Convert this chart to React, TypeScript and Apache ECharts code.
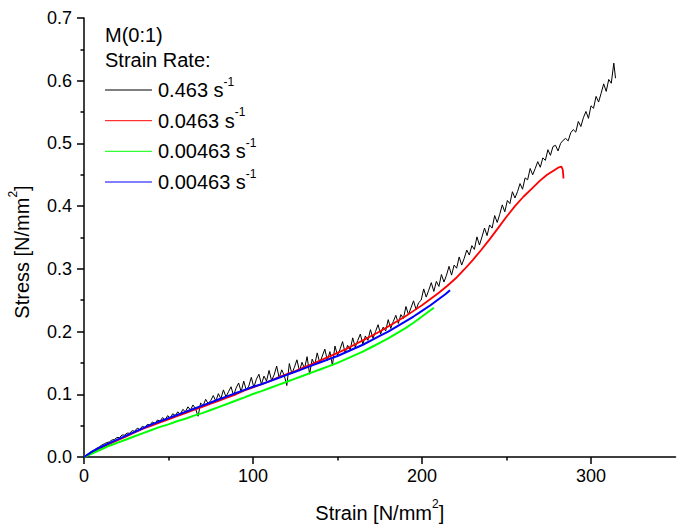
import React, { useEffect, useRef } from 'react';
import * as echarts from 'echarts';

// Strain [N/mm²] vs Stress [N/mm²]
const blackData: [number, number][] = [
  [0, 0], [1.5, 0.003], [3, 0.006], [4.5, 0.009], [6, 0.011], [7.5, 0.014], [9, 0.016], [10.5, 0.019],
  [12, 0.021], [13.5, 0.023], [15, 0.024], [16.5, 0.027], [18, 0.028], [19.5, 0.031], [21, 0.031], [22.5, 0.035],
  [24, 0.035], [25.5, 0.038], [27, 0.038], [28.5, 0.042], [30, 0.041], [31.5, 0.046], [33, 0.044], [34.5, 0.049],
  [36, 0.047], [37.5, 0.052], [39, 0.051], [40.5, 0.056], [42, 0.053], [43.5, 0.059], [45, 0.057], [46.5, 0.063],
  [48, 0.059], [49.5, 0.066], [51, 0.062], [52.5, 0.069], [54, 0.066], [55.5, 0.072], [57, 0.068], [58.5, 0.076],
  [60, 0.072], [61.5, 0.080], [63, 0.075], [64.5, 0.083], [66, 0.077], [67.5, 0.065], [69, 0.086], [70.5, 0.082],
  [72, 0.092], [73.5, 0.085], [75, 0.090], [76.5, 0.098], [78, 0.089], [79.5, 0.101], [81, 0.093], [82.5, 0.107],
  [84, 0.096], [85.5, 0.104], [87, 0.112], [88.5, 0.098], [90, 0.110], [91.5, 0.118], [93, 0.104], [94.5, 0.121],
  [96, 0.107], [97.5, 0.113], [99, 0.127], [100.5, 0.111], [102, 0.124], [103.5, 0.132], [105, 0.116], [106.5, 0.129],
  [108, 0.121], [109.5, 0.138], [111, 0.122], [112.5, 0.131], [114, 0.145], [115.5, 0.126], [117, 0.139], [118.5, 0.130],
  [120, 0.114], [121.5, 0.149], [123, 0.133], [124.5, 0.143], [126, 0.155], [127.5, 0.137], [129, 0.151], [130.5, 0.141],
  [132, 0.160], [133.5, 0.132], [135, 0.156], [136.5, 0.147], [138, 0.166], [139.5, 0.150], [141, 0.161], [142.5, 0.172],
  [144, 0.154], [145.5, 0.168], [147, 0.146], [148.5, 0.177], [150, 0.162], [151.5, 0.172], [153, 0.184], [154.5, 0.166],
  [156, 0.178], [157.5, 0.171], [159, 0.190], [160.5, 0.175], [162, 0.186], [163.5, 0.196], [165, 0.180], [166.5, 0.193],
  [168, 0.186], [169.5, 0.203], [171, 0.189], [172.5, 0.200], [174, 0.211], [175.5, 0.196], [177, 0.207], [178.5, 0.201],
  [180, 0.219], [181.5, 0.205], [183, 0.216], [184.5, 0.226], [186, 0.213], [187.5, 0.227], [189, 0.221], [190.5, 0.240],
  [192, 0.227], [193.5, 0.238], [195, 0.249], [196.5, 0.235], [198, 0.246], [199.5, 0.250], [201, 0.268], [202.5, 0.255],
  [204, 0.266], [205.5, 0.278], [207, 0.264], [208.5, 0.280], [210, 0.272], [211.5, 0.291], [213, 0.279], [214.5, 0.290],
  [216, 0.304], [217.5, 0.290], [219, 0.306], [220.5, 0.301], [222, 0.319], [223.5, 0.306], [225, 0.317], [226.5, 0.330],
  [228, 0.322], [229.5, 0.337], [231, 0.331], [232.5, 0.351], [234, 0.338], [235.5, 0.351], [237, 0.365], [238.5, 0.353],
  [240, 0.370], [241.5, 0.365], [243, 0.385], [244.5, 0.374], [246, 0.387], [247.5, 0.402], [249, 0.391], [250.5, 0.409],
  [252, 0.404], [253.5, 0.423], [255, 0.413], [256.5, 0.423], [258, 0.436], [259.5, 0.427], [261, 0.445], [262.5, 0.442],
  [264, 0.460], [265.5, 0.450], [267, 0.460], [268.5, 0.471], [270, 0.462], [271.5, 0.477], [273, 0.473], [274.5, 0.490],
  [276, 0.481], [277.5, 0.495], [279, 0.497], [280.5, 0.488], [282, 0.500], [283.5, 0.505], [285, 0.508], [286.5, 0.504],
  [288, 0.517], [289.5, 0.522], [291, 0.518], [292.5, 0.535], [294, 0.527], [295.5, 0.541], [297, 0.551], [298.5, 0.540],
  [300, 0.560], [301.5, 0.556], [303, 0.575], [304.5, 0.566], [306, 0.580], [307.5, 0.595], [309, 0.583], [310.5, 0.602],
  [312, 0.596], [313.5, 0.628], [314.5, 0.604],
];

const redData: [number, number][] = [
  [0, 0], [5, 0.007], [10, 0.014], [15, 0.021], [20, 0.027], [25, 0.033], [30, 0.039], [35, 0.045],
  [40, 0.050], [45, 0.055], [50, 0.060], [55, 0.065], [60, 0.070], [65, 0.075], [70, 0.080], [75, 0.085],
  [80, 0.090], [85, 0.095], [90, 0.100], [95, 0.106], [100, 0.111], [105, 0.116], [110, 0.121], [115, 0.127],
  [120, 0.132], [125, 0.137], [130, 0.143], [135, 0.148], [140, 0.154], [145, 0.160], [150, 0.166], [155, 0.172],
  [160, 0.179], [165, 0.186], [170, 0.193], [175, 0.200], [180, 0.208], [185, 0.216], [190, 0.224], [195, 0.233],
  [200, 0.242], [205, 0.252], [210, 0.262], [215, 0.273], [220, 0.285], [225, 0.299], [230, 0.314], [235, 0.330],
  [240, 0.347], [245, 0.365], [250, 0.383], [255, 0.400], [260, 0.415], [265, 0.428], [270, 0.441], [274, 0.450],
  [278, 0.457], [281, 0.462], [282.5, 0.463], [283.3, 0.458], [283.6, 0.449], [283.7, 0.444],
];

const greenData: [number, number][] = [
  [0, 0], [5, 0.006], [10, 0.012], [15, 0.018], [20, 0.023], [25, 0.028], [30, 0.033], [35, 0.038],
  [40, 0.043], [45, 0.048], [50, 0.052], [55, 0.057], [60, 0.061], [65, 0.066], [70, 0.070], [75, 0.075],
  [80, 0.080], [85, 0.085], [90, 0.090], [95, 0.095], [100, 0.1005], [105, 0.105], [110, 0.110], [115, 0.115],
  [120, 0.120], [125, 0.125], [130, 0.130], [135, 0.135], [140, 0.140], [145, 0.145], [150, 0.150], [155, 0.156],
  [160, 0.162], [165, 0.168], [170, 0.175], [175, 0.182], [180, 0.189], [185, 0.197], [190, 0.205], [195, 0.214],
  [200, 0.224], [204, 0.232], [207, 0.238],
];

const blueData: [number, number][] = [
  [0, 0], [5, 0.009], [10, 0.016], [15, 0.022], [20, 0.028], [25, 0.034], [30, 0.040], [35, 0.046],
  [40, 0.052], [45, 0.057], [50, 0.062], [55, 0.067], [60, 0.072], [65, 0.077], [70, 0.082], [75, 0.087],
  [80, 0.092], [85, 0.097], [90, 0.102], [95, 0.107], [100, 0.112], [105, 0.116], [110, 0.121], [115, 0.126],
  [120, 0.131], [125, 0.136], [130, 0.141], [135, 0.146], [140, 0.151], [145, 0.156], [150, 0.161], [155, 0.167],
  [160, 0.173], [165, 0.179], [170, 0.186], [175, 0.193], [180, 0.200], [185, 0.208], [190, 0.216], [195, 0.224],
  [200, 0.233], [205, 0.242], [210, 0.252], [214, 0.260], [216.6, 0.266],
];

const legendTitle = ['M(0:1)', 'Strain Rate:'];
const legendRates = ['0.463', '0.0463', '0.00463', '0.00463'];
const seriesColors = ['#000000', '#ff0000', '#00ff00', '#0000ff'];
const majorXTicks = [0, 100, 200, 300];
const minorXTicks = [50, 150, 250];

const FONT = 'Liberation Sans, Arial, sans-serif';

export default function App() {
  const ref = useRef<HTMLDivElement>(null);
  useEffect(() => {
    if (!ref.current) return;
    const chart = echarts.init(ref.current, undefined, { renderer: 'svg' });
    const seriesData = [blackData, redData, greenData, blueData];
    const widths = [1, 1.8, 2, 2];
    const supRich = {
      sup: { fontSize: 12, fontFamily: FONT, color: '#000', verticalAlign: 'top', lineHeight: 12 },
    };
    const legendLineY = [90, 120.7, 151.3, 182];
    const graphic: any[] = [
      {
        type: 'text', x: 105, y: 35,
        style: { text: legendTitle[0], fontSize: 20, fontFamily: FONT, fill: '#000', verticalAlign: 'middle' },
      },
      {
        type: 'text', x: 105, y: 60,
        style: { text: legendTitle[1], fontSize: 20, fontFamily: FONT, fill: '#000', verticalAlign: 'middle' },
      },
    ];
    legendRates.forEach((r, i) => {
      graphic.push({
        type: 'line',
        shape: { x1: 105, y1: legendLineY[i], x2: 152, y2: legendLineY[i] },
        style: { stroke: seriesColors[i], lineWidth: 1 },
      });
      graphic.push({
        type: 'text', x: 158, y: legendLineY[i],
        style: {
          text: r + ' s{sup|-1}', fontSize: 20, fontFamily: FONT, fill: '#000',
          lineHeight: 29, verticalAlign: 'middle', align: 'left', rich: supRich,
        },
      });
    });
    const nameStyle = {
      fontSize: 20, fontFamily: FONT, color: '#000', lineHeight: 29, rich: supRich,
    };
    chart.setOption({
      animation: false,
      backgroundColor: '#ffffff',
      grid: { left: 84, top: 18, right: 2.5, bottom: 75, containLabel: false, outerBoundsMode: 'none' },
      xAxis: [
        {
          type: 'value', min: 0, max: 350, interval: 50,
          name: 'Strain [N/mm{sup|2}]', nameLocation: 'middle', nameGap: 41, nameTextStyle: nameStyle,
          axisLine: { show: true, onZero: false, lineStyle: { color: '#000', width: 1.5 } },
          axisTick: { show: true, customValues: majorXTicks, length: 7, lineStyle: { color: '#000', width: 1.5 } },
          axisLabel: { customValues: majorXTicks, fontSize: 18, fontFamily: FONT, color: '#000', margin: 10 },
          splitLine: { show: false },
        },
        {
          type: 'value', min: 0, max: 350, interval: 50, position: 'bottom', offset: 0,
          axisLine: { show: false },
          axisTick: { show: true, customValues: minorXTicks, length: 3.5, lineStyle: { color: '#000', width: 1.5 } },
          axisLabel: { show: false },
          splitLine: { show: false },
        },
      ],
      yAxis: {
        type: 'value', min: 0, max: 0.7, interval: 0.1,
        name: 'Stress [N/mm{sup|2}]', nameLocation: 'middle', nameGap: 45,
        nameTextStyle: { ...nameStyle, padding: [0, 29, 0, 0] },
        axisLine: { show: true, onZero: false, lineStyle: { color: '#000', width: 1.5 } },
        axisTick: { show: true, length: 7, lineStyle: { color: '#000', width: 1.5 } },
        minorTick: { show: true, splitNumber: 2, length: 3.5, lineStyle: { color: '#000', width: 1.5 } },
        axisLabel: {
          fontSize: 18, fontFamily: FONT, color: '#000', margin: 12,
          formatter: (v: number) => v.toFixed(1),
        },
        splitLine: { show: false },
        minorSplitLine: { show: false },
      },
      series: seriesData.map((d, i) => ({
        type: 'line',
        xAxisIndex: 0,
        data: d,
        showSymbol: false,
        symbol: 'none',
        lineStyle: { color: seriesColors[i], width: widths[i] },
        itemStyle: { color: seriesColors[i] },
        z: 2 + i,
        silent: true,
      })),
      graphic,
    });
    return () => chart.dispose();
  }, []);
  return (
    <div
      ref={ref}
      style={{ position: 'fixed', left: 0, top: 0, width: 678, height: 532, background: '#fff' }}
    />
  );
}
